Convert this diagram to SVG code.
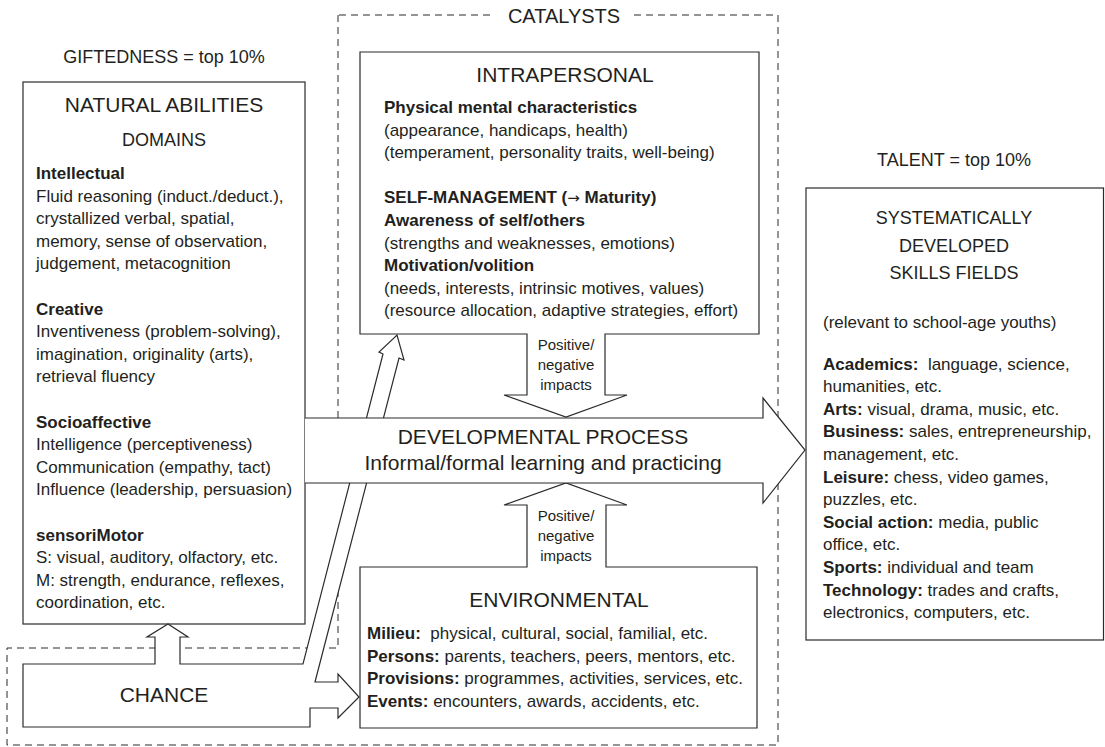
<svg xmlns="http://www.w3.org/2000/svg" width="1105" height="747" viewBox="0 0 1105 747">
<style>
text{font-family:"Liberation Sans",Arial,Helvetica,sans-serif;fill:#231f20}
.b{font-size:17px}
.bd{font-weight:bold}
.h21{font-size:21px}
.h20{font-size:20px}
.h18{font-size:18px}
.s15{font-size:15px}
.c{text-anchor:middle}
.arr{font-family:"DejaVu Sans",sans-serif;font-weight:normal;font-size:15px}
.box{fill:#fff;stroke:#2b2b2b;stroke-width:1.2;stroke-linejoin:miter}
.dash{fill:none;stroke:#2b2b2b;stroke-width:1;stroke-dasharray:7 5}
</style>
<rect width="1105" height="747" fill="#fff"/>

<g id="catalysts-frame">
<path class="dash" d="M339,15 H492 M634,15 H778 V745 H7 V648 H338 V590 M338,418 V15"/>
<text class="h20 c" x="564" y="23">CATALYSTS</text>
</g>

<g id="natural-abilities">
<text class="h18 c" x="164" y="63">GIFTEDNESS = top 10%</text>
<rect class="box" x="23" y="82" width="282" height="542"/>
<text class="h21 c" x="164" y="112">NATURAL ABILITIES</text>
<text class="h18 c" x="164" y="146">DOMAINS</text>
<g class="b">
<text x="36" y="179" class="bd">Intellectual</text>
<text x="36" y="201.6">Fluid reasoning (induct./deduct.),</text>
<text x="36" y="224.2">crystallized verbal, spatial,</text>
<text x="36" y="246.8">memory, sense of observation,</text>
<text x="36" y="269.4">judgement, metacognition</text>
<text x="36" y="314.6" class="bd">Creative</text>
<text x="36" y="337.2">Inventiveness (problem-solving),</text>
<text x="36" y="359.8">imagination, originality (arts),</text>
<text x="36" y="382.4">retrieval fluency</text>
<text x="36" y="427.6" class="bd">Socioaffective</text>
<text x="36" y="450.2">Intelligence (perceptiveness)</text>
<text x="36" y="472.8">Communication (empathy, tact)</text>
<text x="36" y="495.4">Influence (leadership, persuasion)</text>
<text x="36" y="540.6" class="bd">sensoriMotor</text>
<text x="36" y="563.2">S: visual, auditory, olfactory, etc.</text>
<text x="36" y="585.8">M: strength, endurance, reflexes,</text>
<text x="36" y="608.4">coordination, etc.</text>
</g>
</g>

<g id="intrapersonal">
<path class="box" d="M360,52 H759 V334 H605 V395 H627 L566,417 L504,395 H527 V334 H360 Z"/>
<text class="h21 c" x="565" y="82">INTRAPERSONAL</text>
<g class="b">
<text x="384" y="113" class="bd">Physical mental characteristics</text>
<text x="384" y="135.6">(appearance, handicaps, health)</text>
<text x="384" y="158.2">(temperament, personality traits, well-being)</text>
<text x="384" y="203.4" class="bd">SELF-MANAGEMENT (<tspan class="arr">→</tspan> Maturity)</text>
<text x="384" y="226" class="bd">Awareness of self/others</text>
<text x="384" y="248.6">(strengths and weaknesses, emotions)</text>
<text x="384" y="271.2" class="bd">Motivation/volition</text>
<text x="384" y="293.8">(needs, interests, intrinsic motives, values)</text>
<text x="384" y="316.4">(resource allocation, adaptive strategies, effort)</text>
</g>
<g class="s15 c">
<text x="566" y="350">Positive/</text>
<text x="566" y="370">negative</text>
<text x="566" y="390">impacts</text>
</g>
</g>

<g id="environmental">
<path class="box" d="M360,567 H527 V505 H504 L566,483 L627,505 H606 V567 H757 V728 H360 Z"/>
<g class="s15 c">
<text x="566" y="521">Positive/</text>
<text x="566" y="541">negative</text>
<text x="566" y="561">impacts</text>
</g>
<text class="h21 c" x="559" y="607">ENVIRONMENTAL</text>
<g class="b">
<text x="367" y="639" xml:space="preserve"><tspan class="bd">Milieu:</tspan>  physical, cultural, social, familial, etc.</text>
<text x="367" y="661.6"><tspan class="bd">Persons:</tspan> parents, teachers, peers, mentors, etc.</text>
<text x="367" y="684.2"><tspan class="bd">Provisions:</tspan> programmes, activities, services, etc.</text>
<text x="367" y="706.8"><tspan class="bd">Events:</tspan> encounters, awards, accidents, etc.</text>
</g>
</g>

<g id="connectors">
<g id="chance">
<path class="box" d="M23,664 H155 V637 H147 L168,624 L188,637 H180 V664 H303 L383,354 L379,352 L397,335 L404,360 L399,358 L315,682 H338 V674 L359,697 L338,718 V708 H310 V727 H23 Z"/>
<text class="h21 c" x="164" y="702">CHANCE</text>
</g>
<g id="developmental-process">
<path class="box" d="M305,418 H763 V398 L805,450 L763,503 V483 H305"/>
<text class="h21 c" x="543" y="444">DEVELOPMENTAL PROCESS</text>
<text class="h21 c" x="543" y="470">Informal/formal learning and practicing</text>
</g>
</g>

<g id="talent">
<text class="h18 c" x="954" y="166">TALENT = top 10%</text>
<rect class="box" x="806" y="188" width="297.5" height="452"/>
<text class="h18 c" x="954" y="224">SYSTEMATICALLY</text>
<text class="h18 c" x="954" y="251.5">DEVELOPED</text>
<text class="h18 c" x="954" y="279">SKILLS FIELDS</text>
<g class="b">
<text x="823" y="328">(relevant to school-age youths)</text>
<text x="823" y="369.5" xml:space="preserve"><tspan class="bd">Academics:</tspan>  language, science,</text>
<text x="823" y="392.1">humanities, etc.</text>
<text x="823" y="414.7"><tspan class="bd">Arts:</tspan> visual, drama, music, etc.</text>
<text x="823" y="437.3"><tspan class="bd">Business:</tspan> sales, entrepreneurship,</text>
<text x="823" y="459.9">management, etc.</text>
<text x="823" y="482.5"><tspan class="bd">Leisure:</tspan> chess, video games,</text>
<text x="823" y="505.1">puzzles, etc.</text>
<text x="823" y="527.7"><tspan class="bd">Social action:</tspan> media, public</text>
<text x="823" y="550.3">office, etc.</text>
<text x="823" y="572.9"><tspan class="bd">Sports:</tspan> individual and team</text>
<text x="823" y="595.5"><tspan class="bd">Technology:</tspan> trades and crafts,</text>
<text x="823" y="618.1">electronics, computers, etc.</text>
</g>
</g>
</svg>
